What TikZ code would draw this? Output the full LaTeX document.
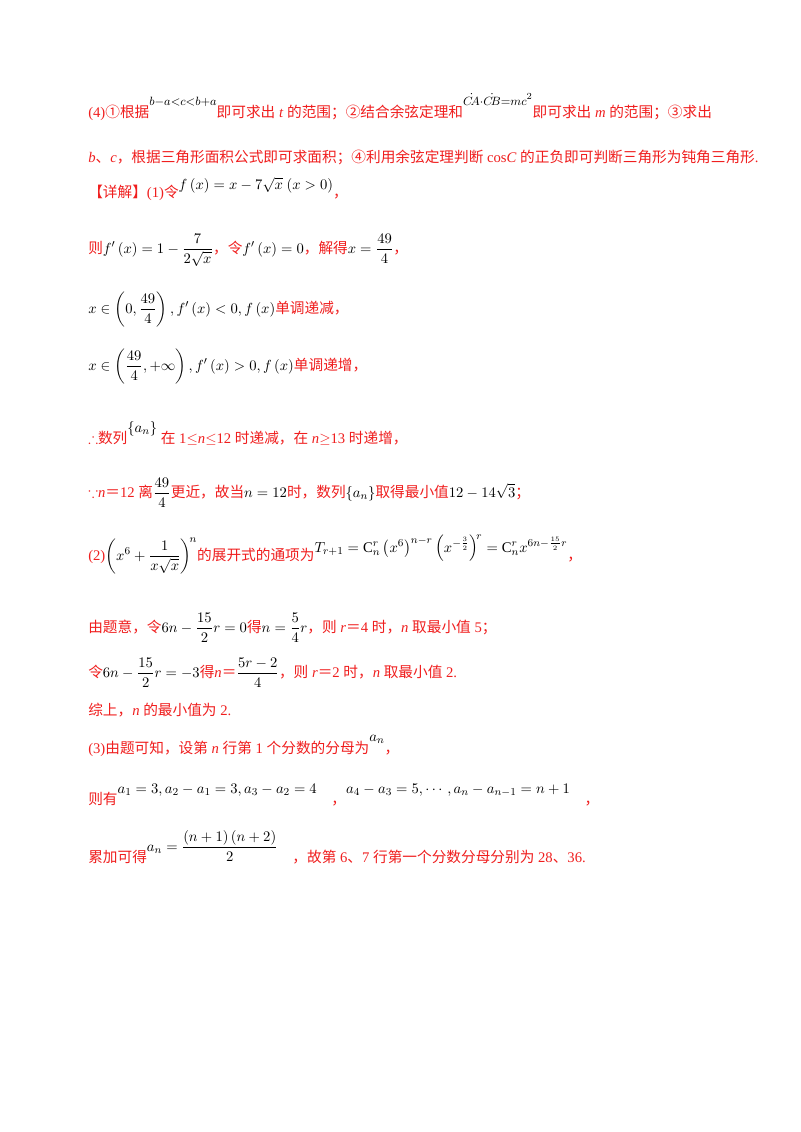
\documentclass[tikz,border=0pt]{standalone}
\usepackage{amsmath,amssymb}
\usepackage{fontspec}
\setmainfont{Liberation Serif}
\newfontfamily\cjk{Noto Sans CJK SC}
\definecolor{rd}{RGB}{240,30,30}
\newcommand{\zh}[1]{{\cjk #1}}
\newcommand{\mth}[1]{\textcolor{black}{$#1$}}
\newcommand{\up}[2]{\raisebox{#1}{\textcolor{black}{$#2$}}}
\newcommand{\upsm}[2]{\raisebox{#1}{\fontsize{9.5}{11}\selectfont\textcolor{black}{$#2$}}}
\begin{document}
\begin{tikzpicture}[x=0.75pt,y=-0.75pt,
  ln/.style={anchor=base west,inner sep=0pt,text=rd,font=\fontsize{11}{13}\selectfont}]
\useasboundingbox[fill=white] (0,0) rectangle (800,1132);
\node[ln] (l1) at (88,117) {(4)\zh{①根据}\upsm{9pt}{b{-}a{<}c{<}b{+}a}\zh{即可求出} \textit{t} \zh{的范围；②结合余弦定理和}\upsm{9pt}{\dot{C\!A}{\cdot}\dot{C\!B}{=}mc^2}\zh{即可求出} \textit{m} \zh{的范围；③求出}};
\node[ln] (l2) at (88,162) {\textit{b}\zh{、}\textit{c}\zh{，根据三角形面积公式即可求面积；④利用余弦定理判断} cos\textit{C} \zh{的正负即可判断三角形为钝角三角形}.};
\node[ln] (l3) at (88,197) {\zh{【详解】}(1)\zh{令}\up{6pt}{f\left(x\right)=x-7\sqrt{x}\ (x>0)}\zh{，}};
\node[ln] (l4) at (88,253) {\zh{则}\mth{f'\left(x\right)=1-\dfrac{7}{2\sqrt{x}}}\zh{，令}\mth{f'\left(x\right)=0}\zh{，解得}\mth{x=\dfrac{49}{4}}\zh{，}};
\node[ln] (l5) at (88,313) {\mth{x\in\left(0,\dfrac{49}{4}\right),f'\left(x\right)<0,f\left(x\right)}\zh{单调递减，}};
\node[ln] (l6) at (88,370) {\mth{x\in\left(\dfrac{49}{4},+\infty\right),f'\left(x\right)>0,f\left(x\right)}\zh{单调递增，}};
\node[ln] (l7) at (88,443) {$\therefore$\zh{数列}\up{8pt}{\left\{a_n\right\}} \zh{在} 1$\leq$\textit{n}$\leq$12 \zh{时递减，在} \textit{n}$\geq$13 \zh{时递增，}};
\node[ln] (l8) at (88,497) {$\because$\textit{n}\zh{＝}12 \zh{离}\mth{\dfrac{49}{4}}\zh{更近，故当}\mth{n=12}\zh{时，数列}\mth{\left\{a_n\right\}}\zh{取得最小值}\mth{12-14\sqrt{3}}\zh{；}};
\node[ln] (l9) at (88,560) {(2)\mth{\left(x^6+\dfrac{1}{x\sqrt{x}}\right)^{\!n}}\zh{的展开式的通项为}\up{6pt}{T_{r+1}=\mathrm{C}_n^r\left(x^6\right)^{n-r}\left(x^{-\frac{3}{2}}\right)^{\!r}=\mathrm{C}_n^r x^{6n-\frac{15}{2}r}}\zh{，}};
\node[ln] (l10) at (88,632) {\zh{由题意，令}\mth{6n-\dfrac{15}{2}r=0}\zh{得}\mth{n=\dfrac{5}{4}r}\zh{，则} \textit{r}\zh{＝}4 \zh{时，}\textit{n} \zh{取最小值} 5\zh{；}};
\node[ln] (l11) at (88,677) {\zh{令}\mth{6n-\dfrac{15}{2}r=-3}\zh{得}\textit{n}\zh{＝}\mth{\dfrac{5r-2}{4}}\zh{，则} \textit{r}\zh{＝}2 \zh{时，}\textit{n} \zh{取最小值} 2.};
\node[ln] (l12) at (88,715) {\zh{综上，}\textit{n} \zh{的最小值为} 2.};
\node[ln] (l13) at (88,753) {(3)\zh{由题可知，设第} \textit{n} \zh{行第} 1 \zh{个分数的分母为}\up{9pt}{a_n}\zh{，}};
\node[ln] (l14) at (88,804) {\zh{则有}\up{8pt}{a_1=3,a_2-a_1=3,a_3-a_2=4}\quad\zh{，}\up{8pt}{a_4-a_3=5,\cdots,a_n-a_{n-1}=n+1}\quad\zh{，}};
\node[ln] (l15) at (88,862) {\zh{累加可得}\up{8pt}{a_n=\dfrac{\left(n+1\right)\left(n+2\right)}{2}}\quad\zh{，故第} 6\zh{、}7 \zh{行第一个分数分母分别为} 28\zh{、}36.};
\end{tikzpicture}
\end{document}
